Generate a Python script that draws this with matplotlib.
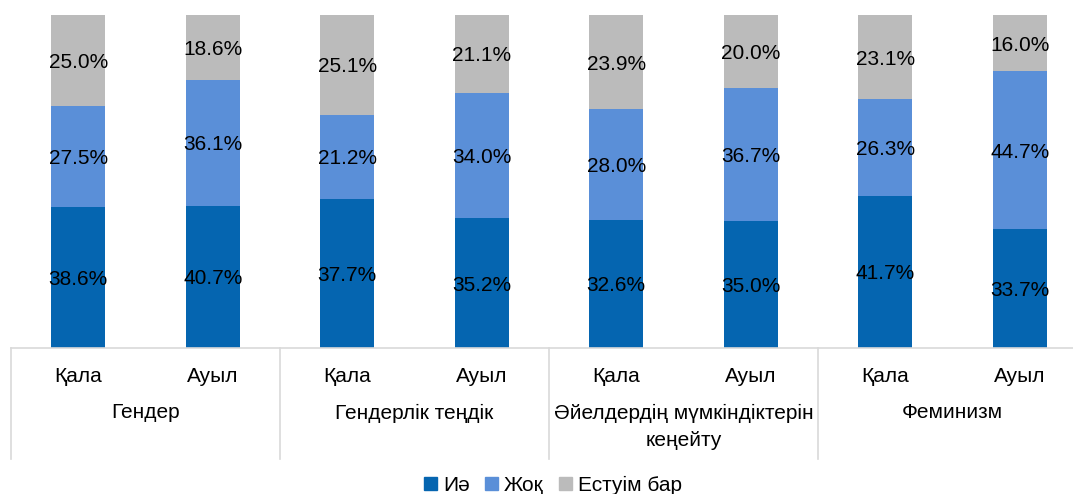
import numpy as np
import matplotlib.pyplot as plt
from matplotlib.patches import Patch

plt.rcParams['font.family'] = ['Liberation Sans', 'DejaVu Sans']

groups = ['Гендер', 'Гендерлік теңдік', 'Әйелдердің мүмкіндіктерін\nкеңейту', 'Феминизм']
places = ['Қала', 'Ауыл']
series = ['Иә', 'Жоқ', 'Естуім бар']
yes = [38.6, 40.7, 37.7, 35.2, 32.6, 35.0, 41.7, 33.7]
no = [27.5, 36.1, 21.2, 34.0, 28.0, 36.7, 26.3, 44.7]
heard = [25.0, 18.6, 25.1, 21.1, 23.9, 20.0, 23.1, 16.0]
colors = ['#0565B0', '#5A8FD8', '#BBBBBB']

W, H = 1073, 494
fig = plt.figure(figsize=(W / 100, H / 100), dpi=100)
# plot area: x 11..1087 px (runs past right edge), y 15..348 px
ax = fig.add_axes([11 / W, 1 - 348 / H, 1076 / W, 333 / H])

vals = np.array([yes, no, heard])
shares = vals / vals.sum(axis=0) * 100
x = np.arange(len(yes))
bottom = np.zeros(len(yes))
for i, name in enumerate(series):
    ax.bar(x, shares[i], 0.4, bottom=bottom, color=colors[i], label=name, zorder=2)
    for xi, b, s, v in zip(x, bottom, shares[i], vals[i]):
        ax.text(xi, b + s / 2, f'{v:.1f}%', ha='center', va='center_baseline', fontsize=15, color='black')
    bottom += shares[i]

ax.set_xlim(-0.5, len(yes) - 0.5)
ax.set_ylim(0, 100)
ax.set_yticks([])
ax.set_xticks([])
for s in ['left', 'right', 'top']:
    ax.spines[s].set_visible(False)
ax.spines['bottom'].set_color('#D9D9D9')
ax.spines['bottom'].set_linewidth(1.2)

# two-level category axis
trans = ax.get_xaxis_transform()
px = 1 / 333  # one pixel in axes-fraction units (vertical)
for xi in x:
    ax.text(xi, -29 * px, places[xi % 2], transform=trans, ha='center', va='center', fontsize=15)
for g, name in enumerate(groups):
    for k, ln in enumerate(name.split('\n')):
        ax.text(2 * g + 0.5, (-65 - 27 * k) * px, ln, transform=trans, ha='center', va='center', fontsize=15)
for g in range(len(groups) + 1):
    ax.plot([2 * g - 0.5, 2 * g - 0.5], [0, -111 * px], transform=trans, color='#D9D9D9',
            linewidth=1.2, clip_on=False)

handles = [Patch(color=c, label=n) for c, n in zip(colors, series)]
fig.legend(handles=handles, loc='center', bbox_to_anchor=(553 / W, 1 - 485 / H), ncol=3, frameon=False,
           fontsize=15, handlelength=0.6, handleheight=0.6, handletextpad=0.3, columnspacing=0.75)

fig.savefig('out.png', dpi=100)
